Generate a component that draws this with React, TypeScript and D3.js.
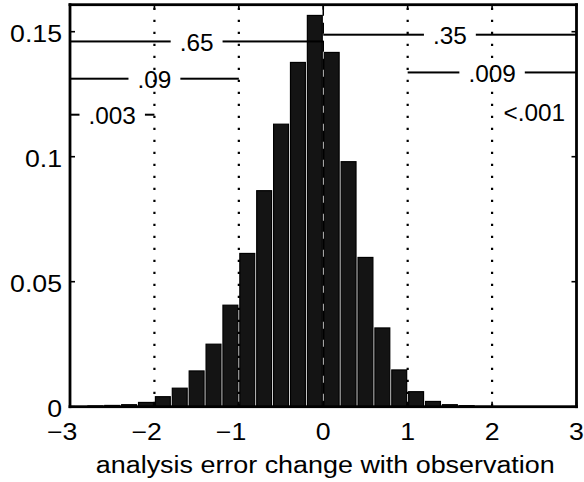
import React, { useEffect, useRef } from 'react';
import * as d3 from 'd3';

// histogram bins (left edges) and fraction of cases per bin
const binStarts = [-3, -2.8, -2.6, -2.4, -2.2, -2, -1.8, -1.6, -1.4, -1.2, -1, -0.8, -0.6, -0.4, -0.2,
  0, 0.2, 0.4, 0.6, 0.8, 1, 1.2, 1.4, 1.6, 1.8, 2, 2.2, 2.4, 2.6, 2.8];
const binFractions = [0, 0.0003, 0.0005, 0.0008, 0.0017, 0.004, 0.0074, 0.0143, 0.025, 0.0406, 0.0613, 0.0864, 0.113, 0.1377, 0.1565,
  0.1417, 0.098, 0.0597, 0.0315, 0.0147, 0.006, 0.0021, 0.0008, 0.0004, 0.0001, 0, 0, 0, 0, 0];
const binWidth = 0.2;

const xTicks = [-3, -2, -1, 0, 1, 2, 3];
const yTicks = [0, 0.05, 0.1, 0.15];
const yTickLabels = ['0', '0.05', '0.1', '0.15'];
const dottedAt = [-2, -1, 1, 2];
const dashedAt = [0];

// probability annotations: label, x-range, level
const annotLabels = ['.65', '.09', '.003', '.35', '.009', '<.001'];
const annotFrom = [-3, -3, -3, 0, 1, 2];
const annotTo = [0, -1, -2, 3, 3, 3];
const annotLevel = [0.1461, 0.1312, 0.1168, 0.1488, 0.1337, 0.118];
const annotHasLine = [true, true, true, true, true, false];

const xLabel = 'analysis error change with observation';

const W = 584, H = 482;
const FONT = '"Liberation Sans", Arial, Helvetica, sans-serif';

export default function App() {
  const ref = useRef<SVGSVGElement>(null);

  useEffect(() => {
    const svg = d3.select(ref.current);
    svg.selectAll('*').remove();

    const x = d3.scaleLinear().domain([-3, 3]).range([70, 576.5]);
    const y = d3.scaleLinear().domain([0, 0.1608]).range([406.7, 4.7]);
    const x0 = 70, x1 = 576.5;
    const yb = 406.7, yt = 4.7;

    const g = svg.append('g');

    g.selectAll('rect.bar')
      .data(binStarts.map((s, i) => ({ s, v: binFractions[i] })).filter(d => d.v > 0))
      .enter().append('rect')
      .attr('class', 'bar')
      .attr('x', d => x(d.s) + 1)
      .attr('width', d => x(d.s + binWidth) - x(d.s) - 2)
      .attr('y', d => y(d.v))
      .attr('height', d => yb - y(d.v))
      .attr('fill', '#141414')
      .attr('stroke', '#000')
      .attr('stroke-width', 1.2);

    dottedAt.forEach(v => {
      g.append('line')
        .attr('x1', x(v)).attr('x2', x(v))
        .attr('y1', yt + 3).attr('y2', yb)
        .attr('stroke', '#000').attr('stroke-width', 2.2)
        .attr('stroke-dasharray', '2.4 9.6');
    });
    dashedAt.forEach(v => {
      g.append('line')
        .attr('x1', x(v)).attr('x2', x(v))
        .attr('y1', yt).attr('y2', yb)
        .attr('stroke', '#000').attr('stroke-width', 1.5)
        .attr('stroke-dasharray', '11 7');
    });

    const inSx = 1.06;
    annotLabels.forEach((lab, i) => {
      const xa = x(annotFrom[i]);
      const xbb = x(annotTo[i]);
      const cx = (xa + xbb) / 2;
      const ly = y(annotLevel[i]);
      const tg = g.append('g').attr('transform', `translate(${cx},${ly + 9.5}) scale(${inSx},1)`);
      const t = tg.append('text')
        .attr('text-anchor', 'middle')
        .attr('font-family', FONT)
        .attr('font-size', 23)
        .attr('fill', '#000')
        .text(lab);
      const tw = (t.node() as SVGTextElement).getComputedTextLength() * inSx;
      if (annotHasLine[i]) {
        const gapL = cx - tw / 2 - 9;
        const gapR = cx + tw / 2 + 9;
        g.append('rect').attr('x', xa).attr('y', ly - 1).attr('width', gapL - xa).attr('height', 2)
          .attr('fill', '#000');
        g.append('rect').attr('x', gapR).attr('y', ly - 1).attr('width', xbb - gapR).attr('height', 2)
          .attr('fill', '#000');
      }
    });

    const tl = 5;
    const tw2 = 1.6;
    xTicks.forEach(v => {
      g.append('rect').attr('x', x(v) - tw2 / 2).attr('y', yb - tl).attr('width', tw2).attr('height', tl).attr('fill', '#000');
      g.append('rect').attr('x', x(v) - tw2 / 2).attr('y', yt).attr('width', tw2).attr('height', tl).attr('fill', '#000');
    });
    yTicks.forEach(v => {
      g.append('rect').attr('x', x0).attr('y', y(v) - tw2 / 2).attr('width', tl).attr('height', tw2).attr('fill', '#000');
      g.append('rect').attr('x', x1 - tl).attr('y', y(v) - tw2 / 2).attr('width', tl).attr('height', tw2).attr('fill', '#000');
    });

    // axes box
    const bw = 2.8;
    g.append('rect').attr('x', x0 - bw / 2).attr('y', yt - bw / 2).attr('width', x1 - x0 + bw).attr('height', bw).attr('fill', '#000');
    g.append('rect').attr('x', x0 - bw / 2).attr('y', yb - bw / 2).attr('width', x1 - x0 + bw).attr('height', bw).attr('fill', '#000');
    g.append('rect').attr('x', x0 - bw / 2).attr('y', yt - bw / 2).attr('width', bw).attr('height', yb - yt + bw).attr('fill', '#000');
    g.append('rect').attr('x', x1 - bw / 2).attr('y', yt - bw / 2).attr('width', bw).attr('height', yb - yt + bw).attr('fill', '#000');

    const sx = 1.16;
    const fs = 23;
    yTicks.forEach((v, i) => {
      g.append('g').attr('transform', `translate(${x0 - 8},${y(v) + 10}) scale(${sx},1)`)
        .append('text').attr('text-anchor', 'end')
        .attr('font-family', FONT).attr('font-size', fs).attr('fill', '#000')
        .text(yTickLabels[i]);
    });
    const halfDigit = 0.556 * fs * sx / 2;
    xTicks.forEach(v => {
      const lab = v < 0 ? '\u2212' + Math.abs(v) : String(v);
      const anchor = v < 0 ? 'end' : 'middle';
      const tx = v < 0 ? x(v) + halfDigit : x(v);
      g.append('g').attr('transform', `translate(${tx},${440}) scale(${sx},1)`)
        .append('text').attr('text-anchor', anchor)
        .attr('font-family', FONT).attr('font-size', fs).attr('fill', '#000')
        .text(lab);
    });

    g.append('g').attr('transform', `translate(${(x0 + x1) / 2 + 2},${473}) scale(1.17,1)`)
      .append('text').attr('text-anchor', 'middle')
      .attr('font-family', FONT).attr('font-size', fs).attr('fill', '#000')
      .text(xLabel);
  }, []);

  return (
    <svg ref={ref} width={W} height={H}
      style={{ position: 'absolute', left: 0, top: 0, background: '#fff' }} />
  );
}
